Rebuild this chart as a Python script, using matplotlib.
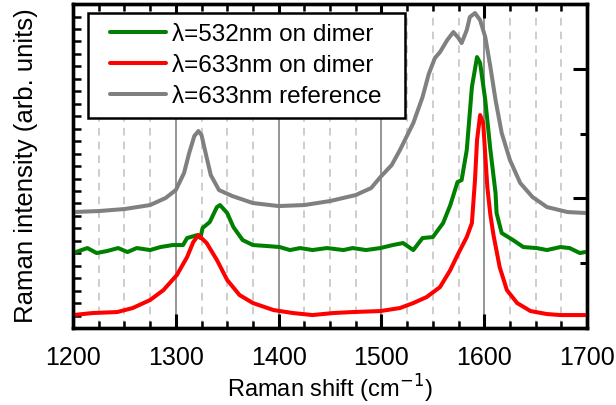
import numpy as np
import matplotlib
matplotlib.use("Agg")
import matplotlib.pyplot as plt
from matplotlib.patches import Rectangle

plt.rcParams["font.family"] = ["Liberation Sans", "DejaVu Sans"]

# spectra (wavenumber, intensity in arb. units)
ref_shift = [1200, 1225, 1250, 1275, 1290, 1300, 1308, 1313, 1318, 1322, 1325, 1329, 1334, 1342,
             1355, 1375, 1400, 1425, 1450, 1475, 1490, 1499, 1510, 1518, 1531, 1540, 1546, 1552,
             1557, 1564, 1570, 1575, 1578, 1583, 1586, 1591, 1596, 1601, 1606, 1611, 1617, 1625,
             1635, 1647, 1661, 1681, 1700]
ref_int = [116, 117, 119, 123, 130, 138, 155, 175, 192, 197, 193, 175, 153, 138,
           132, 125, 122, 123, 127, 133, 140, 151, 163, 178, 205, 231, 254, 270,
           276, 288, 296, 290, 285, 298, 311, 315, 308, 291, 261, 228, 195, 168,
           145, 131, 121, 116, 115]

g_shift = [1200, 1214, 1223, 1233, 1244, 1253, 1262, 1275, 1285, 1297, 1307, 1311, 1321, 1324,
           1326, 1333, 1340, 1343, 1350, 1356, 1365, 1375, 1389, 1401, 1411, 1421, 1433, 1447,
           1463, 1472, 1485, 1499, 1511, 1521, 1531, 1540, 1550, 1560, 1567, 1574, 1578, 1583,
           1588, 1593, 1596, 1601, 1606, 1611, 1612, 1617, 1628, 1638, 1651, 1661, 1674, 1683,
           1693, 1698]
g_int = [75, 80, 75, 77, 80, 76, 80, 78, 81, 83, 83, 90, 93, 90,
         100, 106, 121, 123, 115, 101, 88, 83, 82, 81, 78, 80, 78, 80,
         78, 80, 78, 80, 83, 85, 78, 90, 91, 105, 123, 146, 148, 178,
         241, 271, 265, 228, 178, 135, 115, 95, 88, 81, 80, 78, 81, 80,
         75, 76]

r_shift = [1200, 1219, 1243, 1258, 1275, 1288, 1301, 1311, 1317, 1322, 1330, 1340, 1350, 1362,
           1375, 1395, 1414, 1433, 1453, 1472, 1499, 1518, 1531, 1544, 1557, 1567, 1574, 1583,
           1588, 1591, 1593, 1596, 1599, 1603, 1606, 1609, 1615, 1622, 1632, 1645, 1661, 1674,
           1698]
r_int = [13, 15, 16, 20, 28, 38, 53, 71, 86, 93, 85, 68, 48, 33,
         25, 18, 15, 13, 15, 16, 17, 20, 25, 31, 41, 58, 73, 91,
         105, 148, 188, 213, 205, 141, 113, 93, 61, 38, 25, 17, 14, 13,
         13]

labels = ["λ=532nm on dimer", "λ=633nm on dimer", "λ=633nm reference"]
colors = ["#008000", "#ff0000", "#808080"]

fig = plt.figure(figsize=(6.16, 4.05), dpi=100)
ax = fig.add_axes([0.1185, 0.19, 0.8345, 0.80])

line_kw = dict(lw=2.9, zorder=3, solid_joinstyle="round", solid_capstyle="round")
ax.plot(g_shift, g_int, color=colors[0], label=labels[0], **line_kw)
ax.plot(r_shift, r_int, color=colors[1], label=labels[1], **line_kw)
ax.plot(ref_shift, ref_int, color=colors[2], label=labels[2], **line_kw)

ax.set_xlim(1200, 1700)
ax.set_ylim(0, 324)

# grid: solid at hundreds, dashed at quarters
for x in range(1300, 1700, 100):
    ax.axvline(x, color="#8c8c8c", lw=1.3, zorder=1)
for x in range(1225, 1700, 25):
    if x % 100:
        ax.axvline(x, color="#c0c0c0", lw=1.1, ls=(0, (5, 4)), zorder=1)

ax.set_xticks(range(1200, 1701, 100))
ax.set_xticks(range(1200, 1701, 25), minor=True)
ax.set_yticks([])
ax.set_yticks(np.linspace(0, 324, 27), minor=True)
ax.tick_params(axis="x", which="major", direction="in", length=10, width=2.2,
               top=True, labelsize=18, pad=13)
ax.tick_params(axis="x", which="minor", direction="in", length=5, width=1.8, top=True)
ax.tick_params(axis="y", which="minor", direction="in", length=6, width=1.8,
               left=True, right=False)

ax2 = ax.twinx()
ax2.set_ylim(0, 324)
ax2.set_yticks(np.linspace(0, 324, 6)[::2])
ax2.set_yticks(np.linspace(0, 324, 6)[1::2], minor=True)
ax2.tick_params(axis="y", which="major", direction="in", length=10, width=2.2, labelright=False)
ax2.tick_params(axis="y", which="minor", direction="in", length=5, width=2.2)

for a in (ax, ax2):
    for s in a.spines.values():
        s.set_linewidth(2.4)

ax.set_xlabel("Raman shift (cm$^{-1}$)", fontsize=17, labelpad=2)
ax.set_ylabel("Raman intensity (arb. units)", fontsize=18.5, labelpad=22)

# legend box drawn by hand so the padding can differ per side
ax.add_patch(Rectangle((0.029, 0.648), 0.617, 0.324, transform=ax.transAxes,
                       facecolor="white", edgecolor="black", lw=1.8, zorder=4))
leg = ax.legend(loc="upper left", bbox_to_anchor=(0.072, 0.94), borderaxespad=0,
                fontsize=17.5, handlelength=2.3, handletextpad=0.25, labelspacing=0.37,
                frameon=False, borderpad=0)
leg.set_zorder(5)

fig.savefig("out.png", dpi=100)
